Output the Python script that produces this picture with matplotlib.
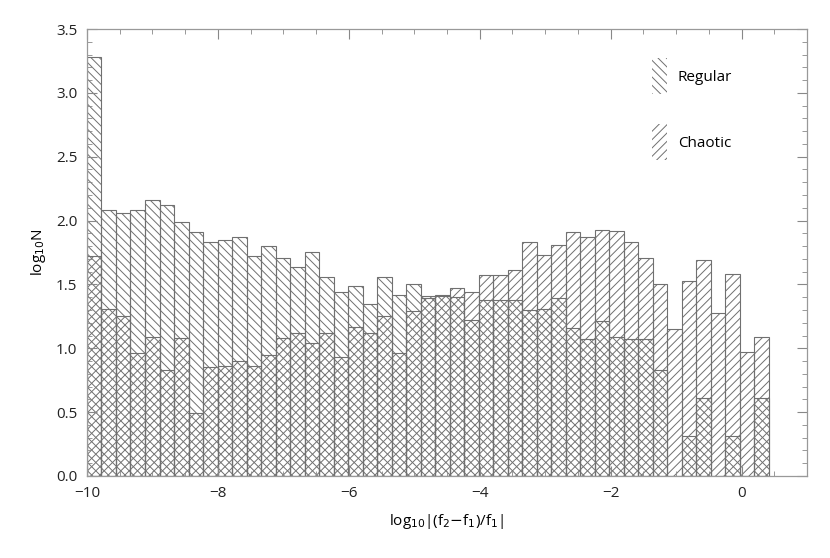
import numpy as np
import matplotlib
matplotlib.use("Agg")
import matplotlib.pyplot as plt
from matplotlib.patches import Patch
from matplotlib.ticker import MultipleLocator

plt.rcParams['font.family'] = ['Open Sans', 'DejaVu Sans']
plt.rcParams['hatch.linewidth'] = 0.7
plt.rcParams['axes.unicode_minus'] = True

# histogram bins: log10 |(f2-f1)/f1|
bin_start = -10.0
bin_width = 0.2216

# log10 N per bin
regular = [3.28, 2.08, 2.06, 2.08, 2.16, 2.12, 1.99, 1.91, 1.83, 1.85,
           1.87, 1.72, 1.80, 1.71, 1.64, 1.75, 1.56, 1.44, 1.49, 1.35,
           1.56, 1.42, 1.50, 1.41, 1.41, 1.40, 1.22, 1.38, 1.38, 1.38,
           1.30, 1.31, 1.39, 1.16, 1.07, 1.21, 1.09, 1.07, 1.07, 0.83,
           0.00, 0.31, 0.61, 0.00, 0.31, 0.00, 0.61]
chaotic = [1.72, 1.31, 1.25, 0.96, 1.09, 0.83, 1.08, 0.49, 0.85, 0.86,
           0.90, 0.86, 0.95, 1.08, 1.12, 1.04, 1.12, 0.93, 1.17, 1.12,
           1.25, 0.96, 1.29, 1.39, 1.42, 1.47, 1.44, 1.57, 1.57, 1.61,
           1.83, 1.73, 1.81, 1.91, 1.87, 1.93, 1.92, 1.83, 1.71, 1.50,
           1.15, 1.53, 1.69, 1.28, 1.58, 0.97, 1.09]

x_ticks = [-10, -8, -6, -4, -2, 0]
y_ticks = [0.0, 0.5, 1.0, 1.5, 2.0, 2.5, 3.0, 3.5]

edges = bin_start + bin_width * np.arange(len(regular))

line_col = '#707070'

fig = plt.figure(figsize=(8.3, 5.58), dpi=100)
ax = fig.add_axes([0.1048, 0.147, 0.8675, 0.801])

ax.bar(edges, regular, width=bin_width, align='edge', fill=False,
       hatch='\\\\\\\\', edgecolor=line_col, linewidth=0.8)
ax.bar(edges, chaotic, width=bin_width, align='edge', fill=False,
       hatch='////', edgecolor=line_col, linewidth=0.8)

ax.set_xlim(-10, 1)
ax.set_ylim(0, 3.5)
ax.set_xticks(x_ticks)
ax.set_yticks(y_ticks)
ax.set_yticklabels([f"{v:.1f}" for v in y_ticks])
ax.xaxis.set_minor_locator(MultipleLocator(0.5))
ax.yaxis.set_minor_locator(MultipleLocator(0.1))
ax.tick_params(which='both', direction='in', top=True, right=True,
               color='#888888', labelsize=11, labelcolor='#222222')
ax.tick_params(which='major', length=7, pad=7)
ax.tick_params(which='minor', length=3.5)
for s in ax.spines.values():
    s.set_color('#999999')
    s.set_linewidth(0.9)

ax.set_xlabel(r"log$_{10}$|(f$_2$$-$f$_1$)/f$_1$|", fontsize=11, labelpad=8)
ax.set_ylabel(r"log$_{10}$N", fontsize=11, labelpad=6)

handles = [Patch(facecolor='none', edgecolor=line_col, hatch='\\\\\\\\', linewidth=0),
           Patch(facecolor='none', edgecolor=line_col, hatch='////', linewidth=0)]
ax.legend(handles, ['Regular', 'Chaotic'], loc='upper right',
          bbox_to_anchor=(0.915, 0.965), frameon=False, fontsize=11,
          handlelength=1.0, handleheight=3.2, labelspacing=2.0,
          handletextpad=0.7)

fig.savefig("out.png", dpi=100)
